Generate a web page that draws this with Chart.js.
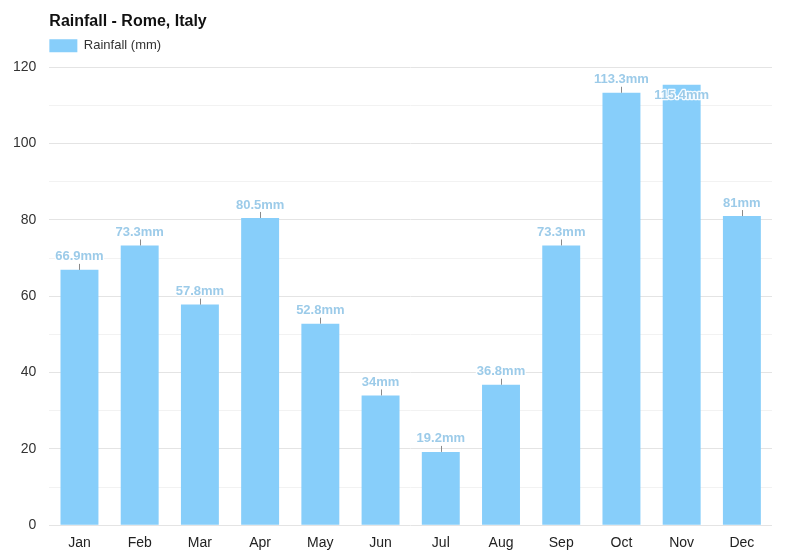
<!DOCTYPE html>
<html>
  <head>
    <title>Rainfall - Rome, Italy</title>
    <script src="https://cdn.jsdelivr.net/npm/chart.js/dist/chart.umd.min.js"></script>
    <style>
      body { margin: 0; background: #fff; }
    </style>
  </head>
  <body>
    <canvas id="rainChart" width="800" height="560"></canvas>
    <script>
    const months = ['Jan', 'Feb', 'Mar', 'Apr', 'May', 'Jun', 'Jul', 'Aug', 'Sep', 'Oct', 'Nov', 'Dec'];
    const rainfall = [66.9, 73.3, 57.8, 80.5, 52.8, 34, 19.2, 36.8, 73.3, 113.3, 115.4, 81];
    const yTicks = [0, 20, 40, 60, 80, 100, 120];

    // value labels on top of bars, with the little tick line
    const barLabels = {
      id: 'barLabels',
      beforeLayout(chart) {
        // a bit more room under the legend
        const lg = chart.legend;
        if (lg && !lg._extraGap) {
          const fit = lg.fit;
          lg.fit = function () { fit.call(this); this.height += 5; };
          lg._extraGap = true;
        }
      },
      afterLayout(chart) {
        // legend box starts flush with the plot, like the title
        chart.legend.left -= 6;
        chart.legend.right -= 6;
      },
      afterDatasetsDraw(chart) {
        const ctx = chart.ctx;
        const meta = chart.getDatasetMeta(0);
        const top = chart.chartArea.top;
        ctx.save();
        ctx.font = 'bold 13px "Liberation Sans", Arial, sans-serif';
        ctx.textAlign = 'center';
        ctx.textBaseline = 'middle';
        ctx.lineJoin = 'round';
        meta.data.forEach((bar, i) => {
          let txt = rainfall[i] + 'mm';
          let ly = bar.y - 13;
          if (ly - 7 < top) {
            // no room above, put it inside the bar
            ly = bar.y + 11;
          } else {
            ctx.strokeStyle = '#8a8a8a';
            ctx.lineWidth = 1;
            ctx.beginPath();
            ctx.moveTo(Math.round(bar.x) + 0.5, bar.y);
            ctx.lineTo(Math.round(bar.x) + 0.5, bar.y - 6);
            ctx.stroke();
          }
          ctx.strokeStyle = 'rgba(255,255,255,0.9)';
          ctx.lineWidth = 2.5;
          ctx.strokeText(txt, bar.x, ly);
          ctx.fillStyle = '#9ccbe9';
          ctx.fillText(txt, bar.x, ly);
        });
        ctx.restore();
      }
    };

    const rainChart = new Chart(document.getElementById('rainChart'), {
      type: 'bar',
      data: {
        labels: months,
        datasets: [{
          label: 'Rainfall (mm)',
          data: rainfall,
          backgroundColor: '#87cefa',
          borderWidth: 0,
          categoryPercentage: 0.63,
          barPercentage: 1
        }]
      },
      options: {
        responsive: false,
        animation: false,
        layout: { padding: { left: 0, right: 28, top: 8, bottom: 6 } },
        plugins: {
          title: {
            display: true,
            text: 'Rainfall - Rome, Italy',
            align: 'start',
            fullSize: false,
            color: '#111',
            font: { family: '"Liberation Sans", Arial, sans-serif', size: 16, weight: 'bold' },
            padding: { top: 4, bottom: 2 }
          },
          legend: {
            align: 'start',
            fullSize: false,
            labels: {
              boxWidth: 28,
              boxHeight: 13,
              color: '#333',
              padding: 6,
              font: { family: '"Liberation Sans", Arial, sans-serif', size: 13 }
            }
          },
          tooltip: { enabled: false }
        },
        scales: {
          x: {
            grid: { display: false },
            border: { display: false },
            ticks: {
              color: '#222',
              padding: 2,
              font: { family: '"Liberation Sans", Arial, sans-serif', size: 14 }
            }
          },
          y: {
            min: 0,
            max: 120,
            border: { display: false },
            grid: {
              drawTicks: false,
              color: ctx => (ctx.tick && ctx.tick.value % 20 === 0) ? '#e4e4e4' : '#f2f2f2'
            },
            ticks: {
              stepSize: 10,
              padding: 13,
              color: '#333',
              font: { family: '"Liberation Sans", Arial, sans-serif', size: 14 },
              callback: v => yTicks.includes(v) ? v : ''
            }
          }
        }
      },
      plugins: [barLabels]
    });
    </script>
  </body>
</html>
